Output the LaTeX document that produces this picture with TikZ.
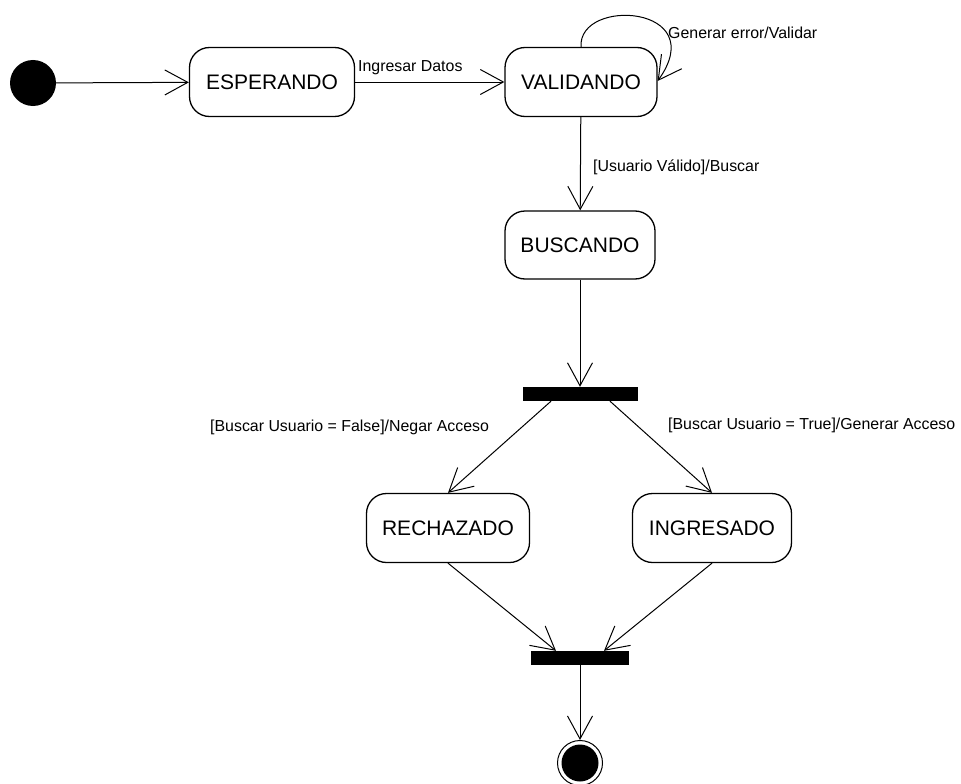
\documentclass[tikz,border=0pt]{standalone}
\usepackage{fontspec}
\setmainfont{Liberation Sans}
\usetikzlibrary{arrows.meta}
\begin{document}
\begin{tikzpicture}[x=1pt,y=-1pt,
  statebox/.style={draw,line width=1.3pt,rounded corners=20pt,font=\fontsize{21}{25}\selectfont,inner sep=0pt},
  lbl/.style={font=\fontsize{15.9}{19}\selectfont,anchor=west,inner sep=0pt},
  barnode/.style={fill=black,draw=none,inner sep=0pt,minimum height=14pt},
  conn/.style={line width=1pt,-{Straight Barb[length=23pt,width=25pt,line width=1pt]}}
]
\useasboundingbox (0,0) rectangle (961,784);
\node[circle,fill=black,minimum size=46pt,inner sep=0pt] (ini) at (33,83) {};
\node[statebox,minimum width=165pt,minimum height=69pt] (esp) at (272,82) {ESPERANDO};
\node[statebox,minimum width=152pt,minimum height=69pt] (val) at (581,82) {VALIDANDO};
\node[statebox,minimum width=150pt,minimum height=68pt] (bus) at (580,245) {BUSCANDO};
\node[barnode,minimum width=115pt] (fork) at (580,394) {};
\node[statebox,minimum width=163pt,minimum height=69pt] (rech) at (448,528) {RECHAZADO};
\node[statebox,minimum width=159pt,minimum height=69pt] (ing) at (712,528) {INGRESADO};
\node[barnode,minimum width=98pt] (join) at (580,658) {};
\node[circle,draw,line width=1pt,minimum size=45pt,inner sep=0pt] (fin) at (580,763) {};
\node[circle,fill=black,minimum size=37pt,inner sep=0pt] (fininner) at (fin.center) {};

\node[lbl] (l1) at (358,68) {Ingresar Datos};
\node[lbl] (l2) at (668,33) {Generar error/Validar};
\node[lbl] (l3) at (593,167) {[Usuario Válido]/Buscar};
\node[lbl] (l4) at (210,427) {[Buscar Usuario = False]/Negar Acceso};
\node[lbl] (l5) at (668,425) {[Buscar Usuario = True]/Generar Acceso};

\draw[conn] (val.north) .. controls (578,-3) and (712,5) .. ([yshift=1pt]val.east);
\draw[conn] (ini) -- (esp);
\draw[conn] (esp) -- (val);
\draw[conn] (val) -- (bus);
\draw[conn] (bus) -- (fork);
\draw[conn] ([xshift=-29pt]fork.south) -- (rech.north);
\draw[conn] ([xshift=30pt]fork.south) -- (ing.north);
\draw[conn] (rech.south) -- ([xshift=-24pt]join.north);
\draw[conn] (ing.south) -- ([xshift=24pt]join.north);
\draw[conn] (join) -- (fin);
\end{tikzpicture}
\end{document}
